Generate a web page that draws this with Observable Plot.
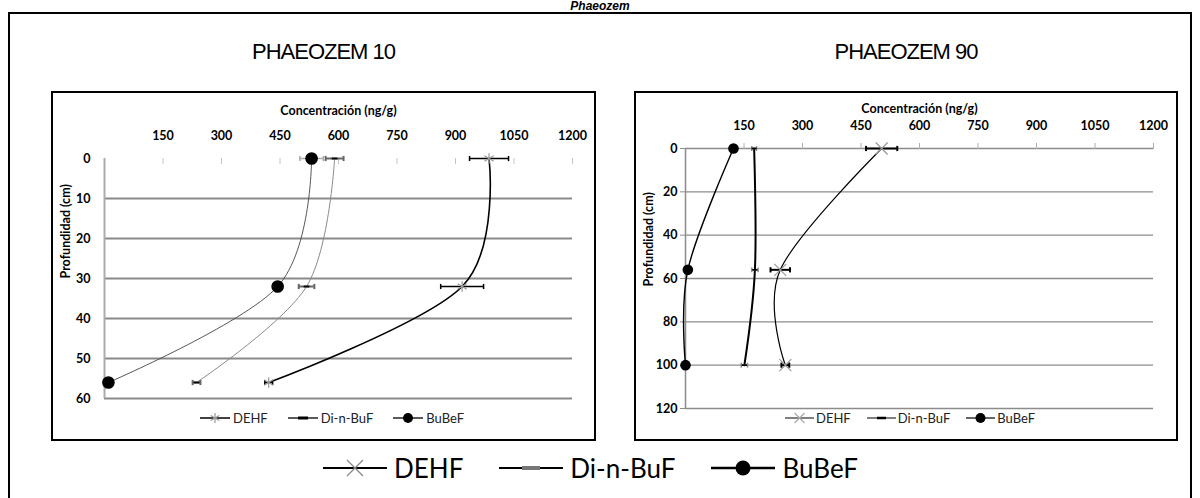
<!DOCTYPE html>
<html>
<head>
<meta charset="utf-8">
<script src="https://cdn.jsdelivr.net/npm/d3@7"></script>
<script src="https://cdn.jsdelivr.net/npm/@observablehq/plot@0.6"></script>
<style>
  html, body { margin: 0; padding: 0; background: #fff; }
  #fig { position: relative; width: 1200px; height: 498px; overflow: hidden; background: #fff; font-family: "Liberation Sans", Arial, sans-serif; }
  .abs { position: absolute; }
  .ptitle { position: absolute; top: 38px; font-size: 22px; letter-spacing: -1px; text-align: center; color: #000; line-height: 28px; }
  .box { position: absolute; border: 2px solid #000; box-sizing: border-box; pointer-events: none; }
  .legend { position: absolute; display: flex; align-items: center; white-space: nowrap; }
  .legend .item { display: flex; align-items: center; }
  .legend svg { display: block; }
</style>
</head>
<body>
<div id="fig">
  <div class="abs" style="top:0px;left:0;width:1200px;text-align:center;font:bold italic 12px 'Liberation Sans',Arial,sans-serif;line-height:12px;">Phaeozem</div>
  <div class="abs" style="left:8px;top:12px;width:1184px;height:520px;border:2px solid #000;box-sizing:border-box;"></div>
  <div class="ptitle" style="left:52px;width:543px;">PHAEOZEM 10</div>
  <div class="ptitle" style="left:635px;width:542px;">PHAEOZEM 90</div>
  <div id="p10" class="abs" style="left:52px;top:92px;"></div>
  <div id="p90" class="abs" style="left:635px;top:92px;"></div>
  <div class="box" style="left:51px;top:91px;width:545px;height:350px;"></div>
  <div class="box" style="left:634px;top:91px;width:544px;height:350px;"></div>
  <div id="leg10" class="legend" style="left:200px;top:408px;height:20px;font:13px Lato,sans-serif;color:#222;"></div>
  <div id="leg90" class="legend" style="left:785px;top:408px;height:20px;font:13px Lato,sans-serif;color:#222;"></div>
  <div id="legMain" class="legend" style="left:323px;top:452px;height:32px;font:26px Lato,sans-serif;color:#000;"></div>
</div>
<script>
// ---------------- data ----------------
const seriesNames = ["DEHF", "Di-n-BuF", "BuBeF"];
const xTicks = [150, 300, 450, 600, 750, 900, 1050, 1200];
const depthTicks10 = [0, 10, 20, 30, 40, 50, 60];
const depthTicks90 = [0, 20, 40, 60, 80, 100, 120];

// PHAEOZEM 10
const depth10 = [0, 32, 56];
const dehf10 = [986, 917, 421];
const dehf10Err = [50, 55, 10];
const dinbuf10 = [590, 518, 236];
const dinbuf10Err = [23, 20, 10];
const bubef10 = [531, 444, 10];
const bubef10Err = [30, 12, 5];

// PHAEOZEM 90
const depth90 = [0, 56, 100];
const dehf90 = [503, 243, 256];
const dehf90Err = [40, 25, 10];
const dinbuf90 = [176, 178, 151];
const dinbuf90Err = [6, 8, 8];
const bubef90 = [123, 6, 0];
const bubef90Err = [4, 3, 3];

const xLabel = "Concentración (ng/g)";
const yLabel = "Profundidad (cm)";

// ---------------- helpers ----------------
function makeRows(depths, vals, errs) {
  return depths.map((d, i) => ({depth: d, v: vals[i], e: errs[i]}));
}
const dashSymbol = {draw(c, s) { const r = Math.sqrt(s / Math.PI); const h = r * 0.32; c.moveTo(-r, -h); c.lineTo(r, -h); c.lineTo(r, h); c.lineTo(-r, h); c.closePath(); }};
const capSymbol = {draw(c, s) { const r = Math.sqrt(s / Math.PI); c.moveTo(0, -r); c.lineTo(0, r); }};

function seriesMarks(series) {
  const marks = [];
  for (const s of series) {
    marks.push(Plot.line(s.rows, {x: "v", y: "depth", curve: "cardinal", ...s.line}));
  }
  for (const s of series) {
    if (s.err) {
      marks.push(Plot.ruleY(s.rows, {y: "depth", x1: d => d.v - d.e, x2: d => d.v + d.e, ...s.err}));
      marks.push(Plot.dot(s.rows, {x: d => d.v - d.e, y: "depth", symbol: capSymbol, r: s.capR, fill: "none", ...s.err}));
      marks.push(Plot.dot(s.rows, {x: d => d.v + d.e, y: "depth", symbol: capSymbol, r: s.capR, fill: "none", ...s.err}));
    }
  }
  for (const s of series) {
    marks.push(Plot.dot(s.rows, {x: "v", y: "depth", ...s.marker}));
  }
  return marks;
}

const baseStyle = {fontFamily: "Lato, sans-serif", fontSize: "12.5px", fontWeight: "bold", color: "#000", background: "transparent", overflow: "visible"};

// ---------------- PHAEOZEM 10 ----------------
const series10 = [
  {name: seriesNames[0], rows: makeRows(depth10, dehf10, dehf10Err),
   line: {stroke: "#000", strokeWidth: 1.6}, err: {stroke: "#000", strokeWidth: 1.5}, capR: 2.6,
   marker: {symbol: "asterisk", r: 5, stroke: "#999", strokeWidth: 1.2}},
  {name: seriesNames[1], rows: makeRows(depth10, dinbuf10, dinbuf10Err),
   line: {stroke: "#8a8a8a", strokeWidth: 1}, err: {stroke: "#666", strokeWidth: 2}, capR: 2.6,
   marker: {symbol: dashSymbol, r: 2.9, fill: "#000", stroke: "none"}},
  {name: seriesNames[2], rows: makeRows(depth10, bubef10, bubef10Err),
   line: {stroke: "#444", strokeWidth: 0.9}, err: {stroke: "#aaa", strokeWidth: 1.5}, capR: 2.6,
   marker: {symbol: "circle", r: 6.3, fill: "#000"}}
];

const plot10 = Plot.plot({
  width: 543, height: 348,
  marginLeft: 52, marginRight: 23, marginTop: 66, marginBottom: 42,
  x: {domain: [0, 1200]},
  y: {domain: [0, 60], reverse: true},
  style: baseStyle,
  marks: [
    Plot.ruleY(depthTicks10.slice(1), {stroke: "#8a8a8a", strokeWidth: 2}),
    Plot.ruleX([0], {y1: 0, y2: 60, stroke: "#ababab", strokeWidth: 2}),
    Plot.ruleX(xTicks, {y1: 0, y2: 1.5, stroke: "#c4c4c4", strokeWidth: 1}),
    Plot.axisX(xTicks, {anchor: "top", tickSize: 0, tickPadding: 19, tickFormat: d => String(d), label: null}),
    Plot.axisY(depthTicks10, {anchor: "left", tickSize: 0, tickPadding: 14, tickFormat: d => String(d), label: null}),
    Plot.text([xLabel], {text: d => d, frameAnchor: "top", dy: -52, fontWeight: "bold"}),
    Plot.text([yLabel], {text: d => d, frameAnchor: "left", dx: -39, rotate: -90, fontWeight: "bold"}),
    ...seriesMarks(series10)
  ]
});
document.getElementById("p10").append(plot10);

// ---------------- PHAEOZEM 90 ----------------
const series90 = [
  {name: seriesNames[0], rows: makeRows(depth90, dehf90, dehf90Err),
   line: {stroke: "#000", strokeWidth: 1.2}, err: {stroke: "#000", strokeWidth: 2}, capR: 2.6,
   marker: {symbol: "times", r: 5.5, stroke: "#999", strokeWidth: 1.2}},
  {name: seriesNames[1], rows: makeRows(depth90, dinbuf90, dinbuf90Err),
   line: {stroke: "#000", strokeWidth: 2}, err: {stroke: "#888", strokeWidth: 1.5}, capR: 2.4,
   marker: {symbol: dashSymbol, r: 2.6, fill: "#000", stroke: "none"}},
  {name: seriesNames[2], rows: makeRows(depth90, bubef90, bubef90Err),
   line: {stroke: "#000", strokeWidth: 1.4}, err: null, capR: 0,
   marker: {symbol: "circle", r: 5.3, fill: "#000"}}
];

const plot90 = Plot.plot({
  width: 542, height: 348,
  marginLeft: 50, marginRight: 24, marginTop: 56, marginBottom: 32,
  x: {domain: [0, 1200]},
  y: {domain: [0, 120], reverse: true},
  style: baseStyle,
  marks: [
    Plot.ruleY(depthTicks90, {stroke: "#8c8c8c", strokeWidth: 1.3}),
    Plot.ruleX([0], {y1: 0, y2: 120, stroke: "#8c8c8c", strokeWidth: 1.5}),
    Plot.axisX(xTicks, {anchor: "top", tickSize: 6, tickPadding: 13, stroke: "#b0b0b0", fill: "#000", tickFormat: d => String(d), label: null}),
    Plot.axisY(depthTicks90, {anchor: "left", tickSize: 5, tickPadding: 3, stroke: "#8c8c8c", fill: "#000", tickFormat: d => String(d), label: null}),
    Plot.text([xLabel], {text: d => d, frameAnchor: "top", dy: -44, fontWeight: "bold"}),
    Plot.text([yLabel], {text: d => d, frameAnchor: "left", dx: -37, dy: 8, rotate: -90, fontWeight: "bold"}),
    ...seriesMarks(series90)
  ]
});
document.getElementById("p90").append(plot90);

// ---------------- legends ----------------
function markerSvg(kind, w, h, opts) {
  const cx = w / 2, cy = h / 2;
  let m = "";
  if (kind === "asterisk") {
    const r = opts.r;
    for (let a = 0; a < 3; a++) {
      const ang = Math.PI / 2 + a * Math.PI / 3;
      m += `<line x1="${cx - r * Math.cos(ang)}" y1="${cy - r * Math.sin(ang)}" x2="${cx + r * Math.cos(ang)}" y2="${cy + r * Math.sin(ang)}" stroke="${opts.color}" stroke-width="1.2"/>`;
    }
  } else if (kind === "times") {
    const r = opts.r;
    m = `<line x1="${cx - r}" y1="${cy - r}" x2="${cx + r}" y2="${cy + r}" stroke="${opts.color}" stroke-width="1.2"/><line x1="${cx - r}" y1="${cy + r}" x2="${cx + r}" y2="${cy - r}" stroke="${opts.color}" stroke-width="1.2"/>`;
  } else if (kind === "dash") {
    m = `<rect x="${cx - opts.r}" y="${cy - opts.t / 2}" width="${2 * opts.r}" height="${opts.t}" fill="${opts.color}"/>`;
  } else if (kind === "circle") {
    m = `<circle cx="${cx}" cy="${cy}" r="${opts.r}" fill="${opts.color}"/>`;
  }
  return `<svg width="${w}" height="${h}"><line x1="0" y1="${cy}" x2="${w}" y2="${cy}" stroke="#000" stroke-width="${opts.lw}"/>${m}</svg>`;
}
function buildLegend(id, items, w, h, textGap, itemGap) {
  const el = document.getElementById(id);
  items.forEach((it, i) => {
    const d = document.createElement("div");
    d.className = "item";
    d.style.marginRight = i < items.length - 1 ? itemGap + "px" : "0";
    d.innerHTML = markerSvg(it.kind, w, h, it) + `<span style="margin-left:${textGap}px">${it.name}</span>`;
    el.append(d);
  });
}
buildLegend("leg10", [
  {name: seriesNames[0], kind: "asterisk", r: 5, color: "#999", lw: 1.5},
  {name: seriesNames[1], kind: "dash", r: 5, t: 3, color: "#000", lw: 1.3},
  {name: seriesNames[2], kind: "circle", r: 5, color: "#000", lw: 1.3}
], 30, 16, 3, 20);
buildLegend("leg90", [
  {name: seriesNames[0], kind: "times", r: 5, color: "#aaa", lw: 1},
  {name: seriesNames[1], kind: "dash", r: 4.5, t: 2.5, color: "#000", lw: 1},
  {name: seriesNames[2], kind: "circle", r: 5, color: "#000", lw: 1.2}
], 29, 16, 2, 16);
buildLegend("legMain", [
  {name: seriesNames[0], kind: "times", r: 8, color: "#888", lw: 2},
  {name: seriesNames[1], kind: "dash", r: 9, t: 4, color: "#777", lw: 2},
  {name: seriesNames[2], kind: "circle", r: 7.5, color: "#000", lw: 2.5}
], 64, 30, 7, 36);
</script>
</body>
</html>
